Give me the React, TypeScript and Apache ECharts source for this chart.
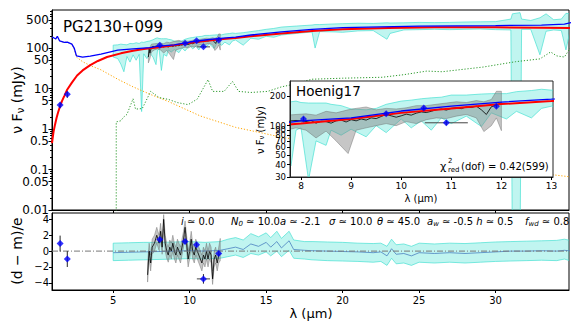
import React, { useEffect, useRef } from 'react';
import * as echarts from 'echarts';

const FONT = 'DejaVu Sans';
const lg = (v: number) => Math.log10(v);
const id = (v: number) => v;

// ---------- main panel model curves (mJy vs micron) ----------
const redLambda = [1.0, 1.05, 1.1, 1.2, 1.3, 1.4, 1.5, 1.65, 1.8, 2.0, 2.3, 2.64, 3.0, 3.5, 4.0, 4.6, 5.5, 6.3, 7.0, 8.0, 9.0, 10.0, 11.0, 12.0, 13.0, 14.0, 16.0, 18.0, 20.0, 23.0, 26.0, 30.0, 33.0, 35.0];
const redFlux = [0.45, 0.62, 0.85, 1.3, 1.9, 2.6, 3.4, 4.9, 6.5, 9.5, 14, 21, 28, 38, 48, 60, 74, 86, 95, 105, 117, 135, 150, 166, 178, 195, 230, 265, 290, 315, 325, 325, 318, 312];

const blueLambda = [1.0, 1.1, 1.2, 1.25, 1.3, 1.35, 1.5, 1.8, 2.0, 2.3, 2.45, 2.6, 3.0, 3.5, 4.2, 5.3, 6.3, 7.4, 8.0, 9.0, 10.0, 11.0, 12.0, 13.0, 14.0, 16.0, 18.0, 20.0, 25.0, 30.0, 33.0, 34.5, 35.0];
const blueFlux = [185, 180, 172, 168, 182, 195, 150, 138, 140, 125, 100, 64, 60, 63, 71, 89, 95, 102, 112, 120, 141, 158, 174, 186, 210, 250, 290, 320, 350, 360, 370, 390, 430];

const orangeLambda = [1.0, 1.1, 1.2, 1.25, 1.3, 1.35, 1.5, 1.8, 2.0, 2.3, 2.45, 2.6, 3.0, 3.5, 4.2, 5.3, 6.3, 7.5, 8.6, 10.7, 13.0, 16.0, 20.0, 25.0, 30.0, 35.0];
const orangeFlux = [185, 180, 172, 168, 182, 195, 150, 138, 140, 125, 95, 60, 46, 37, 29, 17, 11, 7, 4.8, 2.1, 1.1, 0.63, 0.35, 0.18, 0.11, 0.065];

const greenLambda = [5.2, 5.2, 5.5, 5.67, 5.9, 6.3, 6.46, 6.9, 7.45, 8.0, 8.6, 9.2, 9.9, 10.5, 11.2, 11.5, 12.25, 12.8, 13.2, 14.0, 15.1, 16.0, 16.7, 18.0, 20.0, 22.6, 24.0, 25.5, 26.5, 29.2, 31.3, 32.9, 33.6, 34.0, 34.5, 35.0];
const greenFlux = [0.001, 1.5, 1.6, 1.95, 2.3, 5.6, 3.1, 3.2, 8.5, 6.0, 5.4, 4.5, 4.0, 5.5, 16.6, 8.5, 8.5, 15, 8.5, 8, 8.5, 11, 12.5, 17, 18, 19, 22, 27, 26, 34, 46, 54, 80, 64, 60, 118];

// ---------- cyan model-uncertainty band ----------
const cyanLambda = [5.0, 5.3, 5.5, 5.7, 5.9, 6.1, 6.3, 6.5, 6.7, 6.86, 7.0, 7.2, 7.4, 7.6, 7.8, 7.9, 8.0, 8.15, 8.3, 8.5, 8.6, 8.8, 9.0, 9.3, 9.5, 9.7, 10.0, 10.2, 10.4, 10.6, 10.8, 11.0, 11.3, 11.6, 11.8, 12.1, 12.3, 12.6, 12.8, 13.0, 13.5, 14.0, 14.5, 15.0, 15.5, 16.0, 17.0, 18.0, 18.2, 18.5, 19.5, 20.0, 21.0, 22.0, 22.9, 23.1, 24.0, 25.0, 26.0, 27.0, 28.0, 29.0, 30.0, 31.0, 31.1, 31.6, 31.7, 32.3, 32.9, 33.3, 33.8, 34.3, 34.6, 34.9];
const cyanLow = [60, 55, 40, 26, 62, 45, 68, 50, 70, 2.7, 72, 55, 75, 60, 39, 90, 95, 28, 70, 63, 90, 80, 92, 77, 100, 85, 117, 95, 112, 90, 120, 105, 125, 98, 135, 117, 140, 120, 150, 158, 118, 175, 165, 195, 185, 210, 230, 250, 100, 255, 250, 245, 265, 270, 165, 230, 280, 285, 290, 285, 290, 295, 285, 280, 0.001, 0.001, 290, 290, 68, 260, 280, 270, 90, 300];
const cyanHigh = [118, 120, 125, 122, 120, 130, 128, 135, 130, 140, 138, 145, 150, 160, 175, 178, 172, 170, 170, 170, 165, 160, 148, 145, 150, 165, 178, 182, 188, 192, 195, 205, 205, 210, 212, 212, 222, 228, 235, 230, 240, 255, 270, 290, 305, 330, 350, 370, 380, 380, 395, 400, 410, 405, 420, 415, 420, 430, 425, 430, 440, 445, 450, 520, 700, 750, 520, 480, 560, 700, 500, 520, 720, 700];

// ---------- observed spectrum (black) and its grey uncertainty ----------
const specLambda = [7.3, 7.35, 7.4, 7.5, 7.6, 7.7, 7.8, 7.9, 8.0, 8.1, 8.2, 8.3, 8.4, 8.5, 8.6, 8.7, 8.8, 8.9, 9.0, 9.1, 9.2, 9.3, 9.4, 9.5, 9.6, 9.7, 9.8, 9.9, 10.0, 10.1, 10.2, 10.3, 10.4, 10.5, 10.6, 10.7, 10.8, 10.9, 11.0, 11.1, 11.2, 11.3, 11.4, 11.5, 11.6, 11.7, 11.8, 11.9, 12.0];
const specFlux = [60, 95, 75, 105, 110, 108, 112, 113, 112, 110, 113, 106, 111, 110, 106, 112, 114, 109, 115, 112, 117, 114, 120, 118, 124, 130, 126, 122, 126, 131, 128, 134, 138, 136, 140, 145, 148, 144, 150, 152, 149, 155, 153, 158, 145, 130, 156, 162, 172];
const greyLambda = [7.3, 7.4, 7.5, 7.7, 7.9, 8.1, 8.3, 8.5, 8.7, 8.94, 9.1, 9.3, 9.5, 9.7, 9.9, 10.1, 10.3, 10.5, 10.7, 10.9, 11.1, 11.3, 11.5, 11.65, 11.8, 11.9, 12.0];
const greyLow = [43, 55, 80, 90, 95, 90, 75, 88, 70, 52, 90, 95, 100, 105, 100, 110, 105, 115, 120, 118, 125, 130, 120, 87, 100, 120, 89];
const greyHigh = [75, 105, 125, 128, 130, 132, 128, 140, 135, 145, 150, 155, 145, 150, 148, 152, 160, 160, 165, 170, 175, 172, 180, 175, 185, 224, 224];

// ---------- photometry points ----------
const photLambda = [1.53, 2.0, 8.05, 9.7, 10.45, 10.9, 11.9];
const photFlux = [3.9, 7.2, 117, 132, 151, 107, 158];
const photFluxErr = [0.6, 1.3, 6, 6, 6, 6, 8];
const photLambdaErr = [0, 0, 0, 0, 0, 0.43, 0];
const photResid = [0.95, -1.0, 1.45, 1.2, 0.8, -3.5, -0.3];
const photResidErr = [1.0, 1.0, 0.3, 0.3, 0.3, 0.6, 0.3];

// ---------- residual panel ----------
const resBandLambda = [5, 6, 7, 8, 9, 10, 11, 12, 12.5, 13, 13.5, 14, 14.5, 15, 15.3, 15.7, 16, 16.5, 16.8, 17.5, 18, 19, 20, 21, 22, 22.5, 22.9, 23.2, 23.5, 24, 24.5, 25, 26, 27, 28, 29, 30, 31, 32, 33, 34, 34.5, 35];
const resBandLow = [-1.2, -1.15, -1.1, -1.05, -1.0, -0.95, -1.0, -0.9, -0.7, -0.5, -0.8, -0.3, -0.5, -0.1, -0.6, 0.0, -0.7, 0.1, -0.9, -1.0, -1.1, -1.2, -1.25, -1.3, -1.4, -1.3, -1.8, -0.9, -1.6, -1.5, -1.8, -1.4, -1.5, -1.4, -1.5, -1.4, -1.3, -1.25, -1.2, -1.15, -1.2, -1.0, -1.3];
const resBandHigh = [1.0, 1.05, 1.1, 1.1, 1.15, 1.2, 1.1, 1.2, 1.5, 1.7, 1.4, 2.2, 1.8, 2.3, 1.7, 2.5, 1.6, 2.5, 1.4, 1.2, 1.2, 1.15, 1.1, 1.0, 0.95, 1.0, 0.6, 1.5, 0.8, 0.9, 0.6, 1.0, 0.9, 1.0, 0.95, 1.05, 1.15, 1.2, 1.25, 1.3, 1.35, 1.5, 1.3];
const resCenter = [-0.2, -0.15, -0.1, -0.05, 0, 0.05, 0, 0.1, 0.3, 0.5, 0.2, 0.9, 0.6, 1.1, 0.5, 1.2, 0.4, 1.3, 0.2, 0.1, 0.05, 0, -0.05, -0.1, -0.2, -0.1, -0.6, 0.3, -0.4, -0.3, -0.6, -0.2, -0.3, -0.2, -0.3, -0.2, -0.1, 0, 0, 0.05, 0, 0.1, 0];

const residLambda = [7.25, 7.35, 7.45, 7.55, 7.7, 7.85, 8.0, 8.1, 8.2, 8.3, 8.4, 8.5, 8.6, 8.7, 8.8, 8.9, 9.0, 9.1, 9.2, 9.3, 9.4, 9.5, 9.6, 9.7, 9.8, 9.9, 10.0, 10.1, 10.2, 10.3, 10.4, 10.5, 10.6, 10.7, 10.8, 10.9, 11.0, 11.1, 11.2, 11.3, 11.4, 11.5, 11.6, 11.7, 11.8, 11.9, 12.0];
const residVal = [-3.0, 0.0, -1.5, 0.5, 1.0, 2.0, 1.0, 2.5, 0.5, 4.0, 1.0, 0.0, -0.5, 0.5, 0.0, 1.0, 0.0, -0.5, 0.5, 0.0, -0.5, 0.5, 1.5, 3.0, 1.0, -1.0, 0.0, 1.5, 0.0, -0.5, 0.5, 0.0, -0.5, -1.0, -1.5, -0.5, -1.0, 0.0, -1.0, 0.0, -0.5, -3.5, -1.0, -0.5, -1.5, -0.5, -0.3];
const residLow = [-3.9, -1.0, -2.5, -0.4, 0.0, 1.0, 0.1, 1.5, -0.4, 2.8, 0.0, -0.9, -1.4, -0.5, -1.0, 0.0, -1.0, -1.5, -0.5, -1.0, -1.5, -0.5, 0.5, 2.0, 0.0, -2.0, -1.0, 0.5, -1.0, -1.5, -0.5, -1.0, -1.5, -2.0, -2.5, -1.5, -2.0, -1.0, -2.0, -1.0, -1.5, -4.2, -2.0, -1.5, -2.5, -1.5, -1.2];
const residHigh = [-1.5, 1.0, -0.5, 1.5, 2.0, 3.0, 2.0, 3.5, 1.5, 4.6, 2.0, 1.0, 0.5, 1.4, 1.0, 2.0, 1.0, 0.5, 1.5, 1.0, 0.5, 1.5, 2.5, 3.8, 2.0, 0.0, 1.0, 2.5, 1.0, 0.5, 1.5, 1.0, 0.5, 0.0, -0.5, 0.5, 0.0, 1.0, 0.0, 1.0, 0.5, -2.5, 0.0, 0.5, -0.5, 0.5, 1.6];

// ---------- ticks ----------
const xTicks = [5, 10, 15, 20, 25, 30];
const insetXTicks = [8, 9, 10, 11, 12, 13];
const mainYTickValues = [0.01, 0.05, 0.1, 0.5, 1, 5, 10, 50, 100, 500];
const mainYTickLabels = ['0.01', '0.05', '0.1', '0.5', '1', '5', '10', '50', '100', '500'];
const mainYMinor = [0.02, 0.03, 0.04, 0.06, 0.07, 0.08, 0.09, 0.2, 0.3, 0.4, 0.6, 0.7, 0.8, 0.9, 2, 3, 4, 6, 7, 8, 9, 20, 30, 40, 60, 70, 80, 90, 200, 300, 400, 600, 700, 800];
const resYTicks = [-4, -2, 0, 2, 4];
const insetYTickValues = [30, 40, 50, 60, 70, 80, 90, 100, 200];
const insetYTickLabels = ['30', '40', '50', '60', '70', '80', '90', '100', '200'];

const lineSeries = (xs: number[], ys: number[], xi: number, yi: number, tf: (v: number) => number, color: string, width: number, type: any, z: number) => ({
  type: 'line', xAxisIndex: xi, yAxisIndex: yi, z, silent: true, clip: true,
  symbol: 'none', showSymbol: false,
  data: xs.map((x, i) => [x, tf(ys[i])]),
  lineStyle: { color, width, type },
});

const bandSeries = (xs: number[], lo: number[], hi: number[], xi: number, yi: number, tf: (v: number) => number, fill: string, stroke: string, z: number) => ({
  type: 'custom', xAxisIndex: xi, yAxisIndex: yi, z, silent: true, clip: true,
  data: [[xs[0], tf(lo[0])]],
  renderItem: (params: any, api: any) => {
    const pts: number[][] = [];
    for (let i = 0; i < xs.length; i++) pts.push(api.coord([xs[i], tf(hi[i])]));
    for (let i = xs.length - 1; i >= 0; i--) pts.push(api.coord([xs[i], tf(lo[i])]));
    return { type: 'polygon', shape: { points: pts }, style: { fill, stroke, lineWidth: 0.7 } };
  },
});

const errSeries = (xs: number[], ys: number[], ex: number[], ey: number[], xi: number, yi: number, tf: (v: number) => number, z: number) => ({
  type: 'custom', xAxisIndex: xi, yAxisIndex: yi, z, silent: true, clip: true,
  data: xs.map((x, i) => [x, tf(ys[i])]),
  renderItem: (params: any, api: any) => {
    const i = params.dataIndex;
    const ch: any[] = [];
    if (ey[i] > 0) {
      const a = api.coord([xs[i], tf(ys[i] - ey[i])]);
      const b = api.coord([xs[i], tf(ys[i] + ey[i])]);
      ch.push({ type: 'line', shape: { x1: a[0], y1: a[1], x2: b[0], y2: b[1] }, style: { stroke: '#222', lineWidth: 1 } });
    }
    if (ex[i] > 0) {
      const a = api.coord([xs[i] - ex[i], tf(ys[i])]);
      const b = api.coord([xs[i] + ex[i], tf(ys[i])]);
      ch.push({ type: 'line', shape: { x1: a[0], y1: a[1], x2: b[0], y2: b[1] }, style: { stroke: '#444', lineWidth: 1 } });
    }
    return { type: 'group', children: ch };
  },
});

const pointSeries = (xs: number[], ys: number[], xi: number, yi: number, tf: (v: number) => number, z: number) => ({
  type: 'scatter', xAxisIndex: xi, yAxisIndex: yi, z, silent: true,
  symbol: 'diamond', symbolSize: 7,
  data: xs.map((x, i) => [x, tf(ys[i])]),
  itemStyle: { color: '#0000ff' },
});

const CYAN_FILL = 'rgba(64,224,208,0.33)';
const CYAN_EDGE = 'rgba(64,224,208,0.95)';
const GREY_FILL = 'rgba(128,128,128,0.45)';
const GREY_EDGE = 'rgba(100,100,100,0.6)';

const fluxSeries = (xi: number, yi: number, dz: number) => [
  bandSeries(cyanLambda, cyanLow, cyanHigh, xi, yi, lg, CYAN_FILL, CYAN_EDGE, 2 + dz),
  bandSeries(greyLambda, greyLow, greyHigh, xi, yi, lg, GREY_FILL, GREY_EDGE, 3 + dz),
  lineSeries(specLambda, specFlux, xi, yi, lg, '#000', 0.8, 'solid', 4 + dz),
  lineSeries(orangeLambda, orangeFlux, xi, yi, lg, '#ffa500', 1, [1.2, 1.8], 4 + dz),
  lineSeries(greenLambda, greenFlux, xi, yi, lg, '#2e9a2e', 1, [1.2, 1.8], 4 + dz),
  lineSeries(redLambda, redFlux, xi, yi, lg, '#ff0000', 2, 'solid', 5 + dz),
  lineSeries(blueLambda, blueFlux, xi, yi, lg, '#0000ff', 1.3, 'solid', 6 + dz),
  errSeries(photLambda, photFlux, photLambdaErr, photFluxErr, xi, yi, lg, 7 + dz),
  pointSeries(photLambda, photFlux, xi, yi, lg, 8 + dz),
];

const tickLabelFmt = (vals: number[], labels: string[]) => (v: number) => {
  const k = vals.findIndex((c) => Math.abs(lg(c) - v) < 1e-6);
  return k >= 0 ? labels[k] : '';
};

const txt = (x: number, y: number, text: string, size: number, extra: any = {}) => ({
  type: 'text', x, y, z: 40, silent: true,
  style: { text, fill: '#000', font: `${size}px "${FONT}"`, align: 'left', verticalAlign: 'middle', ...extra },
});

const paramRich = {
  it: { fontStyle: 'italic', fontSize: 10, fontFamily: FONT },
  sub: { fontStyle: 'italic', fontSize: 7, fontFamily: FONT, padding: [5, 0, 0, 0] },
};

const axisLineStyle = (color: string) => ({ show: true, onZero: false, lineStyle: { color, width: 1 } });

const option: any = {
  animation: false,
  textStyle: { fontFamily: FONT },
  grid: [
    { left: 52, top: 10, width: 517, height: 200, show: true, borderColor: '#000', borderWidth: 1, backgroundColor: 'transparent', outerBoundsMode: 'none', z: 0 },
    { left: 52, top: 213, width: 517, height: 77, show: true, borderColor: '#000', borderWidth: 1, backgroundColor: 'transparent', outerBoundsMode: 'none', z: 0 },
    { left: 290, top: 81, width: 263, height: 96, show: true, borderColor: '#222', borderWidth: 1, backgroundColor: '#ffffff', outerBoundsMode: 'none', z: 10 },
  ],
  xAxis: [
    {
      type: 'value', gridIndex: 0, min: 1, max: 34.8,
      axisLine: axisLineStyle('#000'),
      axisTick: { show: true, customValues: xTicks, length: 3, lineStyle: { color: '#000' } },
      axisLabel: { show: false }, splitLine: { show: false },
    },
    {
      type: 'value', gridIndex: 1, min: 1, max: 34.8,
      axisLine: axisLineStyle('#000'),
      axisTick: { show: true, customValues: xTicks, length: 3, lineStyle: { color: '#000' } },
      axisLabel: { show: true, customValues: xTicks, fontSize: 10, color: '#000', margin: 5, fontFamily: FONT },
      splitLine: { show: false },
    },
    {
      type: 'value', gridIndex: 2, min: 7.78, max: 13.03, z: 19,
      axisLine: axisLineStyle('#222'),
      axisTick: { show: true, customValues: insetXTicks, length: 3, lineStyle: { color: '#000' } },
      axisLabel: { show: true, customValues: insetXTicks, fontSize: 9, color: '#000', margin: 4, fontFamily: FONT },
      splitLine: { show: false },
    },
  ],
  yAxis: [
    {
      type: 'value', gridIndex: 0, min: -2, max: 2.94, position: 'left',
      axisLine: axisLineStyle('#000'),
      axisTick: { show: true, customValues: mainYTickValues.map(lg), length: 3.5, lineStyle: { color: '#000' } },
      axisLabel: { show: true, customValues: mainYTickValues.map(lg), formatter: tickLabelFmt(mainYTickValues, mainYTickLabels), fontSize: 12, color: '#000', margin: 3, fontFamily: FONT },
      splitLine: { show: false },
    },
    {
      type: 'value', gridIndex: 0, min: -2, max: 2.94, position: 'left', offset: 0,
      axisLine: { show: false, onZero: false },
      axisTick: { show: true, customValues: mainYMinor.map(lg), length: 2, lineStyle: { color: '#000' } },
      axisLabel: { show: false }, splitLine: { show: false },
    },
    {
      type: 'value', gridIndex: 1, min: -4.9, max: 4.8, position: 'left',
      axisLine: axisLineStyle('#000'),
      axisTick: { show: true, customValues: resYTicks, length: 3, lineStyle: { color: '#000' } },
      axisLabel: { show: true, customValues: resYTicks, formatter: (v: number) => (v < 0 ? '\u2212' + Math.abs(v) : String(v)), fontSize: 10, color: '#000', margin: 3, fontFamily: FONT },
      splitLine: { show: false },
    },
    {
      type: 'value', gridIndex: 2, min: lg(30), max: 2.455, position: 'left', z: 19,
      axisLine: axisLineStyle('#222'),
      axisTick: { show: true, customValues: insetYTickValues.map(lg), length: 3, lineStyle: { color: '#000' } },
      axisLabel: { show: true, customValues: insetYTickValues.map(lg), formatter: tickLabelFmt(insetYTickValues, insetYTickLabels), fontSize: 8.5, color: '#000', margin: 4, fontFamily: FONT },
      splitLine: { show: false },
    },
  ],
  series: [
    ...fluxSeries(0, 0, 0),
    // residual panel
    bandSeries(resBandLambda, resBandLow, resBandHigh, 1, 2, id, CYAN_FILL, CYAN_EDGE, 2),
    lineSeries(resBandLambda, resCenter, 1, 2, id, '#4a80c0', 0.8, 'solid', 3),
    bandSeries(residLambda, residLow, residHigh, 1, 2, id, GREY_FILL, GREY_EDGE, 3),
    lineSeries(residLambda, residVal, 1, 2, id, '#000', 0.8, 'solid', 4),
    lineSeries([1, 34.8], [0, 0], 1, 2, id, '#777', 1, [6, 2, 1, 2], 5),
    errSeries(photLambda, photResid, photLambdaErr, photResidErr, 1, 2, id, 7),
    pointSeries(photLambda, photResid, 1, 2, id, 8),
    // inset
    ...fluxSeries(2, 3, 10),
  ],
  graphic: [
    txt(63, 27, 'PG2130+099', 15),
    txt(296, 91, 'Hoenig17', 13.5),
    txt(440, 166, 'χ', 11),
    txt(448, 161, '2', 7),
    txt(448, 170, 'red', 7),
    txt(461, 166, '(dof) = 0.42(599)', 10),
    {
      type: 'text', x: 17, y: 100, rotation: Math.PI / 2, z: 40, silent: true,
      style: { text: '{a|ν F}{s|ν}{a| (mJy)}', fill: '#000', align: 'center', verticalAlign: 'middle', rich: { a: { fontSize: 14, fontFamily: FONT }, s: { fontSize: 10, fontFamily: FONT, padding: [6, 0, 0, 0] } } },
    },
    {
      type: 'text', x: 17, y: 251, rotation: Math.PI / 2, z: 40, silent: true,
      style: { text: '(d \u2212 m)/e', fill: '#000', align: 'center', verticalAlign: 'middle', font: `14px "${FONT}"` },
    },
    {
      type: 'text', x: 311, y: 313, z: 40, silent: true,
      style: { text: 'λ (μm)', fill: '#000', align: 'center', verticalAlign: 'middle', font: `13px "${FONT}"` },
    },
    {
      type: 'text', x: 260, y: 130, rotation: Math.PI / 2, z: 40, silent: true,
      style: { text: '{a|ν F}{s|ν}{a| (mJy)}', fill: '#000', align: 'center', verticalAlign: 'middle', rich: { a: { fontSize: 10, fontFamily: FONT }, s: { fontSize: 7, fontFamily: FONT, padding: [4, 0, 0, 0] } } },
    },
    {
      type: 'text', x: 421, y: 198, z: 40, silent: true,
      style: { text: 'λ (μm)', fill: '#000', align: 'center', verticalAlign: 'middle', font: `10px "${FONT}"` },
    },
    txt(181, 221, '{it|i} ≃ 0.0', 10, { rich: paramRich }),
    txt(231, 221, '{it|N}{sub|0} ≃ 10.0{it|a} ≃ -2.1', 10, { rich: paramRich }),
    txt(329, 221, '{it|σ} ≃ 10.0', 10, { rich: paramRich }),
    txt(377, 221, '{it|θ} ≃ 45.0', 10, { rich: paramRich }),
    txt(427, 221, '{it|a}{sub|w} ≃ -0.5 {it|h} ≃ 0.5', 10, { rich: paramRich }),
    txt(525, 221, '{it|f}{sub|wd} ≃ 0.8', 10, { rich: paramRich }),
  ],
};

export default function App() {
  const ref = useRef<HTMLDivElement>(null);
  useEffect(() => {
    document.body.style.margin = '0';
    const chart = echarts.init(ref.current as HTMLDivElement, null, { renderer: 'svg' });
    chart.setOption(option);
    return () => chart.dispose();
  }, []);
  return <div ref={ref} style={{ width: 581, height: 323 }} />;
}
